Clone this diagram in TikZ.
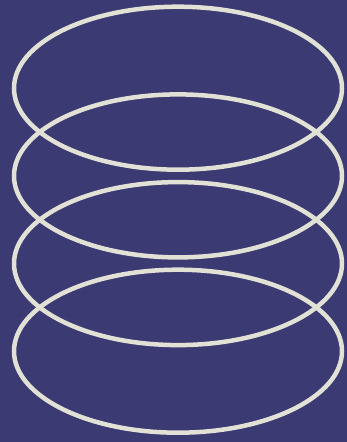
\documentclass[tikz,border=0pt]{standalone}
\usepackage{tikz}
\definecolor{inkblue}{RGB}{59,58,115}
\definecolor{chalk}{RGB}{226,225,213}

\begin{document}
\begin{tikzpicture}[ring/.style={draw=chalk,line width=0.225cm}]
		\fill [inkblue] (0,0) rectangle (17.35,22.1);
		\useasboundingbox (0,0) rectangle (17.35,22.1);
		
		\draw [ring] (8.9,17.69) ellipse [x radius=8.2,y radius=4.075];
		\draw [ring] (8.9,13.305) ellipse [x radius=8.2,y radius=4.075];
		\draw [ring] (8.9,8.92) ellipse [x radius=8.2,y radius=4.075];
		\draw [ring] (8.9,4.54) ellipse [x radius=8.2,y radius=4.075];
		
	\end{tikzpicture}
\end{document}
